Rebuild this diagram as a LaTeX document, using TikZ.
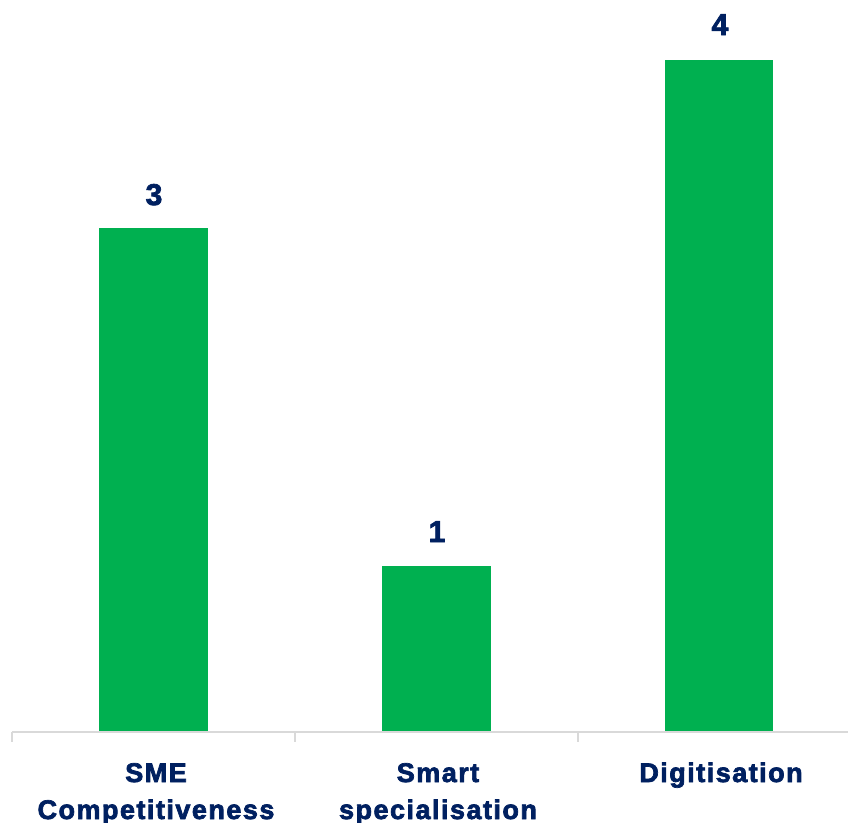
\documentclass[tikz,border=0pt]{standalone}
\usepackage{fontspec}
\setmainfont{Liberation Sans}
\newfontfamily\chartfont{Liberation Sans}[BoldFont={Liberation Sans Bold},BoldFeatures={FakeBold=2.6,LetterSpace=5.5}]
\definecolor{bargreen}{HTML}{00B050}
\definecolor{navy}{HTML}{002060}
\definecolor{axisgrey}{HTML}{D9D9D9}
\begin{document}
\begin{tikzpicture}[x=1pt,y=-1pt,
  bar/.style={fill=bargreen,draw=none},
  axisline/.style={draw=axisgrey,line width=1.5pt},
  val/.style={font=\chartfont\bfseries\fontsize{30}{30}\selectfont,text=navy,anchor=base,inner sep=0pt},
  cat/.style={font=\chartfont\bfseries\fontsize{27}{37}\selectfont,text=navy,anchor=base,align=center,inner sep=0pt}]
\useasboundingbox (0,0) rectangle (848,822);
% bars
\fill[bar] (99,228) rectangle (208,731);
\fill[bar] (382,566) rectangle (491,731);
\fill[bar] (665,60) rectangle (773,731);
% axis
\coordinate (axL) at (12,732);
\coordinate (axR) at (848,732);
\draw[axisline] (axL) -- (axR);
\draw[axisline] (12,732) -- (12,742);
\draw[axisline] (295,732) -- (295,742);
\draw[axisline] (578,732) -- (578,742);
% values
\node[val] (v1) at (154,205) {3};
\node[val] (v2) at (437,542) {1};
\node[val] (v3) at (720,35) {4};
% categories (base anchor = baseline of last line)
\node[cat] (c1) at (156,819) {SME\\Competitiveness};
\node[cat] (c2) at (438,819) {Smart\\specialisation};
\node[cat] (c3) at (721,782) {Digitisation};
\end{tikzpicture}
\end{document}
